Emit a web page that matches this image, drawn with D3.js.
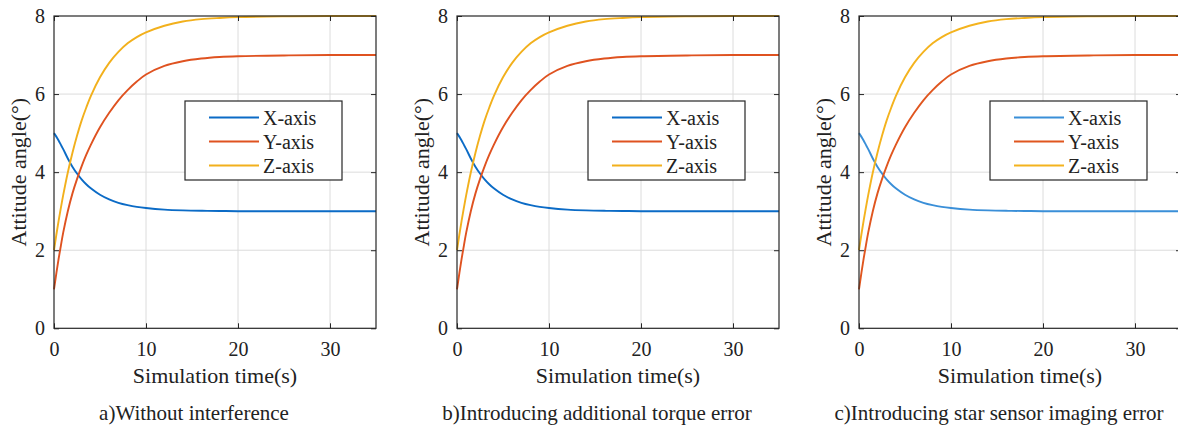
<!DOCTYPE html>
<html>
<head>
<meta charset="utf-8">
<script src="https://cdn.jsdelivr.net/npm/d3@7"></script>
<style>
  body { margin: 0; background: #fff; }
  text { font-family: "Liberation Serif", "Times New Roman", serif; fill: #222; }
</style>
</head>
<body>
<div class="chart"></div>
<script>
// sample times (s) and the three attitude angle curves
const timeS = [0, 0.25, 0.5, 0.75, 1, 1.5, 2, 2.5, 3, 3.5, 4, 5, 6, 7, 8, 9, 10, 12, 14, 16, 18, 20, 25, 30, 35];
const xAxisDeg = [5.00, 4.91, 4.81, 4.70, 4.59, 4.35, 4.14, 3.965, 3.815, 3.69, 3.585, 3.42, 3.30, 3.215, 3.155, 3.11, 3.08, 3.04, 3.02, 3.01, 3.005, 3.00, 3.00, 3.00, 3.00];
const yAxisDeg = [1.00, 1.40, 1.78, 2.12, 2.45, 3.00, 3.45, 3.82, 4.15, 4.44, 4.70, 5.15, 5.52, 5.84, 6.10, 6.32, 6.50, 6.72, 6.84, 6.91, 6.95, 6.97, 6.99, 7.00, 7.00];
const zAxisDeg = [2.00, 2.39, 2.75, 3.09, 3.41, 3.99, 4.49, 4.93, 5.32, 5.65, 5.95, 6.43, 6.80, 7.08, 7.30, 7.46, 7.58, 7.75, 7.86, 7.92, 7.95, 7.97, 7.99, 8.00, 8.00];

const seriesNames = ["X-axis", "Y-axis", "Z-axis"];
const xTicks = [0, 10, 20, 30];
const yTicks = [0, 2, 4, 6, 8];
const captions = [
  "a)Without interference",
  "b)Introducing additional torque error",
  "c)Introducing star sensor imaging error"
];

const width = 1178;
const height = 429;
const panelLefts = [54, 457, 859];
const plotW = 322;
const plotTop = 16;
const plotBottom = 328.3;
const colorSets = [
  ["#0b6bc6", "#df5220", "#f2b01c"],
  ["#0b6bc6", "#df5220", "#f2b01c"],
  ["#3a8fd8", "#e0561f", "#f4b31e"]
];

const svg = d3.select(".chart")
  .append("svg")
  .attr("width", width)
  .attr("height", height);

const seriesValues = [xAxisDeg, yAxisDeg, zAxisDeg];

panelLefts.forEach(function (left, p) {
  const xScale = d3.scaleLinear().domain([0, 35]).range([left, left + plotW]);
  const yScale = d3.scaleLinear().domain([0, 8]).range([plotBottom, plotTop]);
  const g = svg.append("g");

  // grid
  g.selectAll(".vgrid").data(xTicks.filter(d => d > 0)).enter()
    .append("line")
    .attr("x1", d => xScale(d)).attr("x2", d => xScale(d))
    .attr("y1", plotTop).attr("y2", plotBottom)
    .attr("stroke", "#dcdcdc").attr("stroke-width", 1);
  g.selectAll(".hgrid").data(yTicks.filter(d => d > 0 && d < 8)).enter()
    .append("line")
    .attr("x1", left).attr("x2", left + plotW)
    .attr("y1", d => yScale(d)).attr("y2", d => yScale(d))
    .attr("stroke", "#dcdcdc").attr("stroke-width", 1);

  // curves
  const line = d3.line()
    .x((d, i) => xScale(timeS[i]))
    .y(d => yScale(d))
    .curve(d3.curveCatmullRom.alpha(0.5));

  seriesValues.forEach(function (vals, s) {
    g.append("path")
      .datum(vals)
      .attr("fill", "none")
      .attr("stroke", colorSets[p][s])
      .attr("stroke-width", 1.9)
      .attr("d", line);
  });

  // axes with inward ticks
  const styleAxis = function (sel) {
    sel.attr("font-family", null).attr("font-size", null);
    sel.select(".domain").remove();
    sel.selectAll(".tick line").attr("stroke", "#262626");
    sel.selectAll(".tick text")
      .style("font-family", "'Liberation Serif', serif")
      .style("font-size", "20px")
      .attr("fill", "#222");
  };

  g.append("g")
    .attr("transform", `translate(0,${plotBottom})`)
    .call(d3.axisBottom(xScale).tickValues(xTicks).tickSize(-5).tickPadding(14))
    .call(styleAxis);
  g.append("g")
    .attr("transform", `translate(0,${plotTop})`)
    .call(d3.axisTop(xScale).tickValues(xTicks).tickSize(-5).tickFormat(""))
    .call(styleAxis);
  g.append("g")
    .attr("transform", `translate(${left},0)`)
    .call(d3.axisLeft(yScale).tickValues(yTicks).tickSize(-5).tickPadding(9))
    .call(styleAxis);
  g.append("g")
    .attr("transform", `translate(${left + plotW},0)`)
    .call(d3.axisRight(yScale).tickValues(yTicks).tickSize(-5).tickFormat(""))
    .call(styleAxis);

  g.append("rect")
    .attr("x", left).attr("y", plotTop)
    .attr("width", plotW).attr("height", plotBottom - plotTop)
    .attr("fill", "none")
    .attr("stroke", "#262626")
    .attr("stroke-width", 1.2);

  // legend
  const lx = left + 131;
  const ly = 101;
  const legend = g.append("g");
  legend.append("rect")
    .attr("x", lx).attr("y", ly)
    .attr("width", 157).attr("height", 79)
    .attr("fill", "#fff")
    .attr("stroke", "#262626")
    .attr("stroke-width", 1.2);
  seriesNames.forEach(function (name, s) {
    const rowY = ly + 16.5 + s * 24;
    legend.append("line")
      .attr("x1", lx + 24).attr("x2", lx + 74)
      .attr("y1", rowY).attr("y2", rowY)
      .attr("stroke", colorSets[p][s])
      .attr("stroke-width", 1.9);
    legend.append("text")
      .attr("x", lx + 78).attr("y", rowY)
      .attr("dy", "0.35em")
      .style("font-size", "20px")
      .text(name);
  });

  // axis titles
  g.append("text")
    .attr("x", left + plotW / 2)
    .attr("y", 383)
    .attr("text-anchor", "middle")
    .style("font-size", "22px")
    .text("Simulation time(s)");
  g.append("text")
    .attr("transform", `translate(${left - 36},${(plotTop + plotBottom) / 2}) rotate(-90)`)
    .attr("dy", "0.35em")
    .attr("text-anchor", "middle")
    .style("font-size", "22px")
    .text("Attitude angle(°)");

  // caption
  g.append("text")
    .attr("x", left + plotW / 2 - 21)
    .attr("y", 420)
    .attr("text-anchor", "middle")
    .style("font-size", "21px")
    .text(captions[p]);
});
</script>
</body>
</html>
